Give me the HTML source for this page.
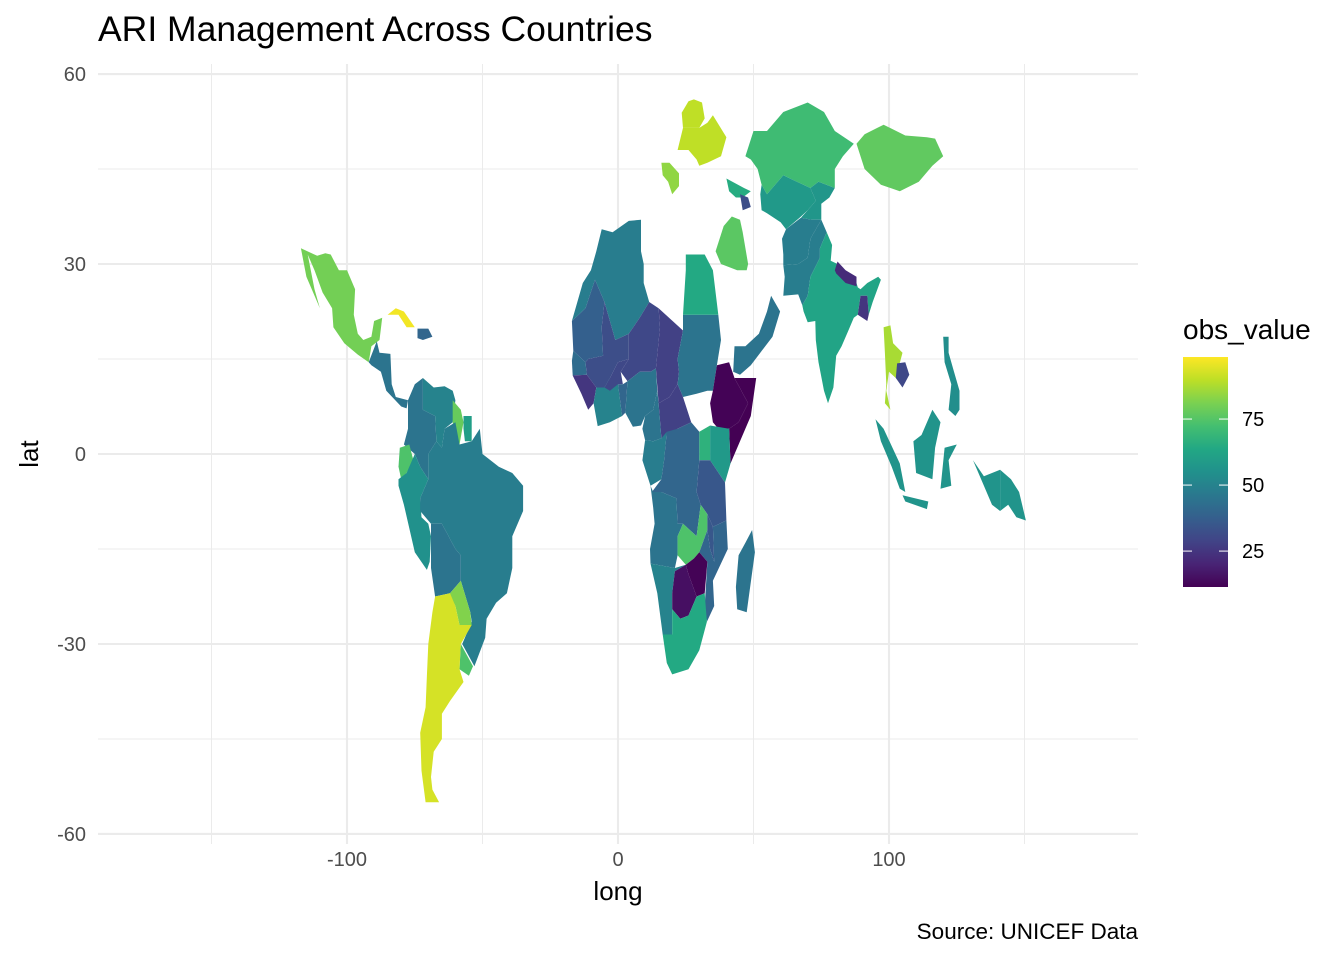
<!DOCTYPE html>
<html><head><meta charset="utf-8"><style>
html,body{margin:0;padding:0;background:#fff;}
svg{display:block;font-family:"Liberation Sans",sans-serif;}
</style></head><body>
<svg id="chart" width="1344" height="960" viewBox="0 0 1344 960">
<g id="grid"></g>
<g id="map"></g>
<g id="axes"></g>
<text x="98" y="41" font-size="35.5" fill="#000">ARI Management Across Countries</text>
<text x="618" y="900" font-size="26" text-anchor="middle" fill="#000">long</text>
<text transform="translate(38,454) rotate(-90)" font-size="26" text-anchor="middle" fill="#000">lat</text>
<text x="1138" y="939" font-size="22.5" text-anchor="end" fill="#000">Source: UNICEF Data</text>
<g id="legend">
<text x="1183" y="339" font-size="28" fill="#000">obs_value</text>
<defs><linearGradient id="vir" x1="0" y1="1" x2="0" y2="0"></linearGradient></defs>
<rect x="1183" y="357" width="45" height="230" fill="url(#vir)"></rect>
</g>
</svg>
<script>
const xTicks=[-100,0,100];
const xMinor=[-150,-50,50,150];
const yTicks=[-60,-30,0,30,60];
const yMinor=[-45,-15,15,45];
const legendTicks=[25,50,75];
const vMin=11.4, vMax=98.5;
const countryNames=["mexico","cuba","haiti-dr","central-america","colombia","venezuela","guyana","suriname","ecuador","peru","brazil","bolivia","paraguay","uruguay","argentina",
"algeria-morocco","mauritania","mali","niger","chad","sudan","egypt","ethiopia","somalia","kenya","car","nigeria","senegal","guinea","cote-ivoire-ghana","burkina","benin-togo","cameroon","gabon-congo","drc","uganda","tanzania","angola","zambia","malawi","mozambique","zimbabwe","namibia","botswana","south-africa","madagascar",
"yemen-oman","iraq","ukraine","belarus","serbia","caucasus","azerbaijan","kazakhstan","uzbekistan","kyrgyz-tajik","afghanistan","pakistan","india","nepal","bangladesh","thailand","cambodia","philippines","sumatra","java","borneo","sulawesi","papua","png","mongolia"];
const countryValues=[80,97,40,45,45,50,78,60,74,55,48,45,82,74,93,
48,38,32,30,28,45,64,12,10,58,28,45,42,25,50,30,40,45,48,40,67,35,45,74,35,40,12,50,15,64,45,
45,76,90,90,84,65,32,71,58,57,48,48,62,22,25,87,30,54,56,56,56,56,56,56,77];
const countryShapes=[
[[-117,32.5],[-111,31.3],[-108,31.7],[-106,31.5],[-103,29],[-100,29],[-97,26],[-97.5,22],[-96,19],[-94,18],[-91,18.5],[-90,21],[-87,21.5],[-88,18],[-91,17],[-92,14.5],[-96,15.7],[-101,17.5],[-105,20],[-105.5,23],[-109,25.5],[-112,29],[-114.5,31.5],[-112,26],[-110,23],[-115,28]],
[[-85,22],[-82,23],[-79,22.5],[-75,20],[-78,20],[-81,22]],
[[-74,19.8],[-70,19.8],[-68.5,18.5],[-72,18],[-74,18.3]],
[[-92,14.5],[-89,17.8],[-88,16],[-84,15.8],[-83.5,11],[-82,9],[-77.5,8.5],[-78,7.2],[-80,7.5],[-85.5,10],[-87.5,13],[-91,14]],
[[-77.5,8.5],[-75,11],[-72,12],[-72,7],[-67.5,6],[-67,2],[-70,0],[-70,-4],[-73,-2],[-75,0],[-79,1.5],[-77.5,4]],
[[-72,12],[-68,10.5],[-64,10.7],[-61,10],[-60,8.5],[-61,5],[-64,4],[-65,1],[-67,2],[-67.5,6],[-72,7]],
[[-61,8.5],[-58,7],[-57,5],[-58.5,1.5],[-60,1.5],[-61,5]],
[[-57,6],[-54,6],[-54,2],[-56.5,2],[-57,4]],
[[-80.5,1],[-77,1.5],[-75.5,-1],[-78,-3],[-80,-4],[-81,-2]],
[[-81,-4],[-78,-3],[-75,0],[-73,-2],[-70,-4],[-73,-7],[-72.5,-10],[-70,-11],[-69,-13],[-69.5,-17],[-70.5,-18.3],[-75,-15.5],[-79,-8],[-81,-5]],
[[-70,-4],[-70,0],[-67,2],[-65,1],[-64,4],[-60,5],[-58.5,1.5],[-54,2],[-51,4],[-50,0],[-44,-2],[-39,-3],[-35,-5],[-35,-9],[-39,-13],[-39,-18],[-41,-22],[-45,-23.5],[-48.5,-26],[-49,-29],[-53,-33.5],[-57.5,-30],[-54,-26.5],[-54.5,-25],[-58,-20],[-58,-16],[-60,-15],[-65,-11],[-69,-11],[-73,-9],[-73,-7]],
[[-69,-11],[-65,-11],[-60,-15],[-58,-16],[-58,-20],[-62,-22],[-67.5,-22.5],[-69,-18],[-69,-13]],
[[-62,-22],[-58,-20],[-54.5,-25],[-54,-27],[-58.5,-27],[-60,-24],[-62.5,-22]],
[[-58,-30],[-53.5,-33.5],[-55,-35],[-58.5,-34]],
[[-67.5,-22.5],[-62,-22],[-60,-24],[-58.5,-27],[-54,-27],[-58,-30],[-58.5,-34],[-57,-36],[-62,-39],[-65,-41],[-65,-45],[-68,-47],[-69,-51],[-68.5,-53],[-66,-55],[-71,-55],[-72.5,-50],[-73,-44],[-71,-40],[-70.5,-35],[-70,-30],[-68.5,-25]],
[[-17,21],[-13,27],[-10,29],[-8,32],[-6,35.5],[-2,35],[4,36.8],[8.5,37],[8.5,32],[9.5,30],[9.5,27],[11.5,24],[8,21.5],[4,19],[-1,18],[-5,24],[-8.5,27.5],[-12,23]],
[[-17,21],[-12,23],[-8.5,27.5],[-5,24],[-6,20],[-5.5,15.5],[-11,15],[-12,14.5],[-16.5,16.3]],
[[-12,14.5],[-11,15],[-5.5,15.5],[-6,20],[-5,24],[-1,18],[4,19],[4,15],[0,14.5],[-3,12],[-5,10.5],[-8,10.5],[-11.5,12.5]],
[[4,15],[4,19],[8,21.5],[11.5,24],[15,23],[15.5,20],[14,13.5],[12,13],[8,13],[3.5,11.5],[1,13]],
[[15,23],[24,19.5],[22,15],[22.5,13],[22,11],[19,9],[15,8],[14,13.5],[15.5,20]],
[[24,19.5],[24,22],[37,22],[38,18],[36.5,14],[35,10],[33,10],[29,9.5],[24,9],[22,11],[22.5,13],[22,15]],
[[25,31.5],[32,31.5],[35,29],[37,22],[24,22],[25,29]],
[[36.5,14],[41,14.5],[43,12],[48,8],[44.5,5],[41,4],[37,4],[35,5],[34,8],[35,10]],
[[43,12],[51,12],[49,6],[41.5,-1.5],[41,4],[44.5,5],[48,8]],
[[34,4.5],[41,4],[41.5,-1.5],[39.5,-4.5],[34,-1]],
[[15,8],[19,9],[22,11],[24,9],[27,5],[22,4],[16,2.5]],
[[3.5,11.5],[8,13],[12,13],[14,13.5],[14.5,10],[13,7],[10,6],[8.5,4.5],[5.5,4.3],[2.7,6.5]],
[[-17,14.7],[-16.5,16.3],[-12,14.5],[-11.5,12.5],[-16.7,12.4]],
[[-16.7,12.4],[-11.5,12.5],[-8,10.5],[-9,8],[-11,7],[-13.5,9.5]],
[[-8,10.5],[-5,10.5],[-3,12],[0,11],[1.5,6],[-3,5],[-7.5,4.4],[-9,8]],
[[-5,10.5],[-3,12],[0,14.5],[4,15],[1,13],[1.8,11],[0,11],[-3,10]],
[[0,11],[1.8,11],[3.5,11.5],[2.7,6.5],[1.5,6]],
[[14.5,10],[15,8],[16,2.5],[13,2],[10,2.2],[9,4],[10,6],[13,7]],
[[10,2.2],[13,2],[16,2.5],[18,3.5],[17,-1],[16,-4],[12,-5],[9,-1]],
[[18,3.5],[22,4],[27,5],[30,3.5],[30,-1],[29,-6],[30.5,-8],[29,-13],[24,-11],[22,-11],[21.5,-7],[16,-6],[12.5,-6],[16,-4],[17,-1]],
[[30,3.5],[34,4.5],[34,-1],[30,-1]],
[[30,-1],[34,-1],[39.5,-4.5],[40,-10.5],[35,-11.5],[33,-9.5],[30.5,-8],[29,-6]],
[[12,-5],[13,-6],[16,-6],[21.5,-7],[22,-11],[24,-11],[22,-13],[22,-16],[21,-18],[12,-17.3],[11.8,-15],[13.5,-11],[13,-8.5]],
[[22,-13],[24,-11],[29,-13],[30.5,-8],[33,-9.5],[33,-12],[30,-15.5],[28,-16.5],[25,-17.5],[22,-16]],
[[33,-9.5],[35,-11.5],[35.5,-17],[34,-15],[33,-12]],
[[35,-11.5],[40,-10.5],[40.5,-15],[35,-20],[35.5,-24],[32.8,-26.5],[32,-24],[33,-17],[30,-15.5],[33,-12],[34,-15],[35.5,-17]],
[[25,-17.5],[28,-16.5],[30,-15.5],[33,-17],[32,-22],[29,-22.5],[26,-19]],
[[12,-17.3],[21,-18],[25,-17.5],[21,-18.5],[20,-22],[20,-28.5],[16.5,-28.5],[14.5,-22]],
[[21,-18.5],[25,-17.5],[26,-19],[29,-22.5],[26,-25.5],[23,-26],[20,-24.5],[20,-22]],
[[16.5,-28.5],[20,-28.5],[20,-24.5],[23,-26],[26,-25.5],[29,-22.5],[32,-22],[32.8,-26.5],[30,-31],[26,-34],[20,-34.8],[18,-33]],
[[49.5,-12],[50.5,-15.5],[47.5,-25],[44,-24.5],[43.5,-21],[44.5,-16],[47,-14]],
[[42.5,13],[43,17],[47,17],[52,19],[55,22.5],[56.5,25],[59.8,22.5],[57,18.5],[52.5,16],[49,14],[45,12.5]],
[[36,32],[39,36],[42,37.5],[45,37],[46,35],[48,30],[47.5,29],[44,29],[38,30]],
[[22,48],[24,51.5],[30,51.5],[33,52.3],[35,53.5],[40,50],[38,47],[33,46],[30,45.5],[29,46.5],[26,48]],
[[24,51.5],[23.5,53.9],[26,55.7],[28,56],[31,55.5],[32,53],[30,51.5]],
[[16,46],[19,46],[22.5,44.3],[22.5,42.3],[20,41],[18.5,43],[16.5,44]],
[[40,43.5],[46.5,42],[49,41.5],[46,40.5],[43.5,40.5],[41,41.5]],
[[45,41],[48,40.5],[49,39],[46,38.5]],
[[47,47],[50,51],[55,51],[61,54],[70,55.5],[76,54],[80,51],[87,49],[83,47],[80,45],[80,42],[74,43],[71,42],[66,43],[61,44],[55,41],[53,42.5],[51.5,45],[49,46.5]],
[[53,42.5],[55,41],[61,44],[66,43],[71,42],[73,40],[70,38.5],[67,37.3],[62,35.5],[60,36.6],[55,38],[53,38.5],[52.5,41]],
[[71,42],[74,43],[80,42],[78,40.5],[75,39.5],[75,37],[71.5,37],[67.5,37.3],[70,38.5],[73,40]],
[[60.5,34],[62,35.5],[67.5,37.3],[71.5,37],[75,37],[71,34],[70,31],[66.5,30],[61,29.8],[61,31.5]],
[[61,25],[61.5,28],[61,29.8],[66.5,30],[70,31],[71,34],[75,37],[77,35],[74.5,32.5],[74.5,31],[71,28],[70,25],[68,23.5],[66.5,25.2]],
[[68,23.5],[70,25],[71,28],[74.5,31],[74.5,32.5],[77,35],[79,33],[78.5,30.5],[81,30],[84,27.5],[88,27],[88.5,26.3],[89.5,26],[92,27],[96,28],[97,27.5],[94,24],[92.5,22],[92,25],[89.5,25],[88.5,22],[87,21.5],[85,19.5],[82.5,17],[80.5,15.5],[80,13],[79.5,10.5],[77.5,8],[76,10],[74,14.5],[73,18],[72.8,21],[70,20.8],[68.5,22.5]],
[[80,29],[81,30.4],[84,29],[88,28],[88,26.5],[84,27],[80.5,28.5]],
[[88.5,22],[89.5,25],[92,25],[92.5,22],[92,21]],
[[98,20],[100.5,20.3],[101.5,17.5],[105,16],[102.5,12],[100,13],[99,10],[100.5,7],[98.5,8],[99,11],[98.5,16]],
[[102.5,12],[103,14.3],[106,14.5],[107.5,12.5],[105,10.5]],
[[120,18.5],[122,18.5],[122,16],[124,13],[126,10],[126,7],[124.5,6],[122,7],[123,11],[120.5,14.5]],
[[95,5.5],[98,4],[104,-1.5],[106,-6],[104,-5.5],[101,-2],[97,2]],
[[105,-6.5],[114.5,-7.5],[114,-8.7],[106,-7.5]],
[[109,2],[112,3],[116,7],[119,5],[117,1],[116,-4],[110,-3]],
[[119,-5.5],[120.5,1],[125,1.5],[122,-1],[123,-5]],
[[131,-1],[135,-3.5],[141,-2.5],[141,-9],[138,-8],[135,-5]],
[[141,-2.5],[145,-4],[148,-6],[150.5,-10.5],[147,-10],[144,-8],[141,-9]],
[[88,49],[91,50.5],[98,52],[106,50.3],[114,50],[117,49.8],[120,47],[116,45.5],[111,43],[104,41.5],[97,42.5],[91,45]]
];
const viridis=["#440154","#482475","#414487","#355f8d","#2a788e","#21918c","#22a884","#44bf70","#7ad151","#bddf26","#fde725"];
const NS="http://www.w3.org/2000/svg";
function xs(lon){return 618+lon*2.71;}
function ys(lat){return 454-lat*6.333;}
function hex2rgb(h){return [1,3,5].map(i=>parseInt(h.substr(i,2),16));}
function color(v){let t=Math.max(0,Math.min(1,(v-vMin)/(vMax-vMin)))*10;let i=Math.min(9,Math.floor(t));let f=t-i;
 const a=hex2rgb(viridis[i]),b=hex2rgb(viridis[i+1]);return "rgb("+a.map((c,k)=>Math.round(c+(b[k]-c)*f)).join(",")+")";}
const grid=document.getElementById('grid');
function line(x1,y1,x2,y2,w,name){const l=document.createElementNS(NS,'line');l.setAttribute('x1',x1);l.setAttribute('y1',y1);l.setAttribute('x2',x2);l.setAttribute('y2',y2);l.setAttribute('stroke','#ebebeb');l.setAttribute('stroke-width',w);
 
 
 grid.appendChild(l);}
xMinor.forEach(v=>line(xs(v),64,xs(v),844,1,'minor-gridline-x'));
yMinor.forEach(v=>line(98,ys(v),1138,ys(v),1,'minor-gridline-y'));
xTicks.forEach(v=>line(xs(v),64,xs(v),844,2.1,'major-gridline-x'));
yTicks.forEach(v=>line(98,ys(v),1138,ys(v),2.1,'major-gridline-y'));
const axes=document.getElementById('axes');
function txt(x,y,s,anchor,name){const t=document.createElementNS(NS,'text');t.setAttribute('x',x);t.setAttribute('y',y);t.setAttribute('font-size','20');t.setAttribute('fill','#4d4d4d');t.setAttribute('text-anchor',anchor);t.textContent=s;
 
 
 return t;}
xTicks.forEach(v=>axes.appendChild(txt(xs(v),866,String(v),'middle','x-tick-label')));
yTicks.forEach(v=>axes.appendChild(txt(86,ys(v)+7,String(v),'end','y-tick-label')));
const map=document.getElementById('map');
countryShapes.forEach((shape,i)=>{const p=document.createElementNS(NS,'polygon');
 p.setAttribute('points',shape.map(c=>xs(c[0]).toFixed(1)+","+ys(c[1]).toFixed(1)).join(" "));
 p.setAttribute('fill',color(countryValues[i]));
 
 
 map.appendChild(p);});
const grad=document.getElementById('vir');
viridis.forEach((c,i)=>{const s=document.createElementNS(NS,'stop');s.setAttribute('offset',(i*10)+'%');s.setAttribute('stop-color',c);grad.appendChild(s);});
const leg=document.getElementById('legend');
legendTicks.forEach(v=>{const y=587-(v-vMin)/(vMax-vMin)*230;
 const a=document.createElementNS(NS,'line');a.setAttribute('x1',1183);a.setAttribute('x2',1192);a.setAttribute('y1',y);a.setAttribute('y2',y);a.setAttribute('stroke','#fff');a.setAttribute('stroke-width',1);
 
 
 leg.appendChild(a);
 const b=document.createElementNS(NS,'line');b.setAttribute('x1',1219);b.setAttribute('x2',1228);b.setAttribute('y1',y);b.setAttribute('y2',y);b.setAttribute('stroke','#fff');b.setAttribute('stroke-width',1);
 
 
 leg.appendChild(b);
 const t=txt(1242,y+7,String(v),'start','legend-label');t.setAttribute('fill','#000');leg.appendChild(t);});
</script>
</body></html>
